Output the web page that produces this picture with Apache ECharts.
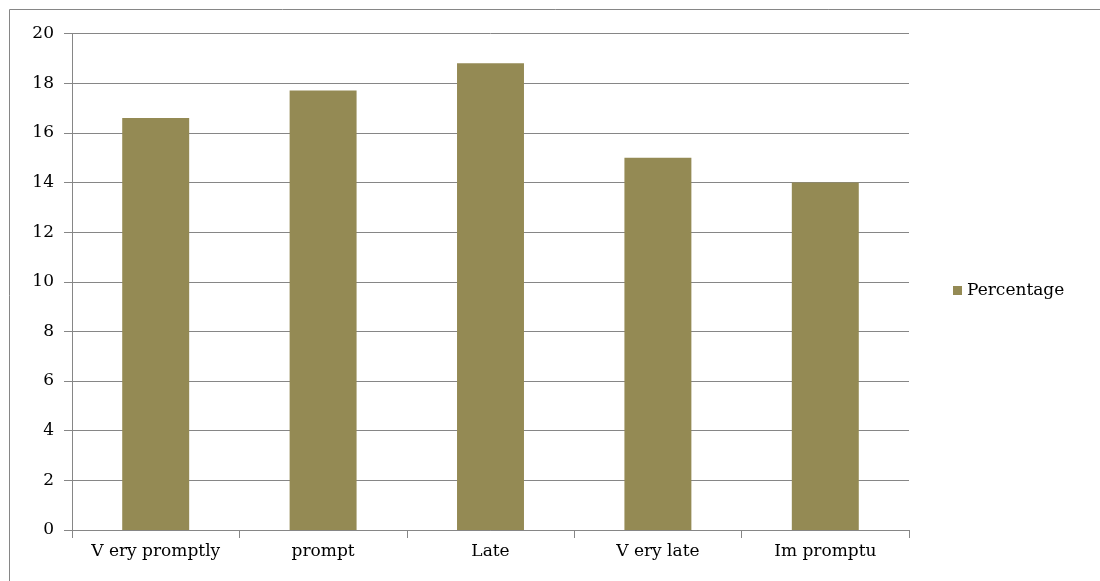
<!DOCTYPE html>
<html>
<head>
<meta charset="utf-8">
<script src="https://cdn.jsdelivr.net/npm/echarts@6/dist/echarts.min.js"></script>
<style>
html,body{margin:0;padding:0;background:#fff;}
#chart{width:1100px;height:581px;}
</style>
</head>
<body>
<div id="chart"></div>
<script>
var categories = ['V ery promptly', 'prompt', 'Late', 'V ery late', 'Im promptu'];
var seriesName = 'Percentage';
var values = [16.6, 17.7, 18.8, 15.0, 14.0];
var yTicks = { min: 0, max: 20, interval: 2 };

var chart = echarts.init(document.getElementById('chart'), null, { renderer: 'canvas' });
var font = '"DejaVu Serif", "Liberation Serif", serif';
chart.setOption({
  animation: false,
  backgroundColor: '#ffffff',
  graphic: [{
    type: 'rect',
    shape: { x: 9.5, y: 9.5, width: 1200, height: 1000 },
    style: { fill: 'none', stroke: '#868686', lineWidth: 1 },
    silent: true
  }],
  grid: { left: 72, right: 191, top: 33.5, bottom: 51, containLabel: false },
  legend: {
    orient: 'vertical',
    left: 948,
    top: 'middle',
    itemWidth: 9,
    itemHeight: 9,
    itemGap: 6,
    icon: 'rect',
    textStyle: { fontFamily: font, fontSize: 17, color: '#000' },
    data: [seriesName]
  },
  xAxis: {
    type: 'category',
    data: categories,
    axisLine: { lineStyle: { color: '#868686', width: 1 } },
    axisTick: { show: true, length: 8, inside: false, interval: 0, lineStyle: { color: '#868686' } },
    axisLabel: { fontFamily: font, fontSize: 17, color: '#000', margin: 13, interval: 0 }
  },
  yAxis: {
    type: 'value',
    min: yTicks.min,
    max: yTicks.max,
    interval: yTicks.interval,
    axisLine: { show: true, lineStyle: { color: '#868686', width: 1 } },
    axisTick: { show: true, length: 8, lineStyle: { color: '#868686' } },
    splitLine: { show: true, lineStyle: { color: '#868686', width: 1 } },
    axisLabel: { fontFamily: font, fontSize: 17, color: '#000', margin: 18 }
  },
  series: [{
    name: seriesName,
    type: 'bar',
    data: values,
    barCategoryGap: '60%',
    itemStyle: { color: '#948A54' }
  }]
});
</script>
</body>
</html>
